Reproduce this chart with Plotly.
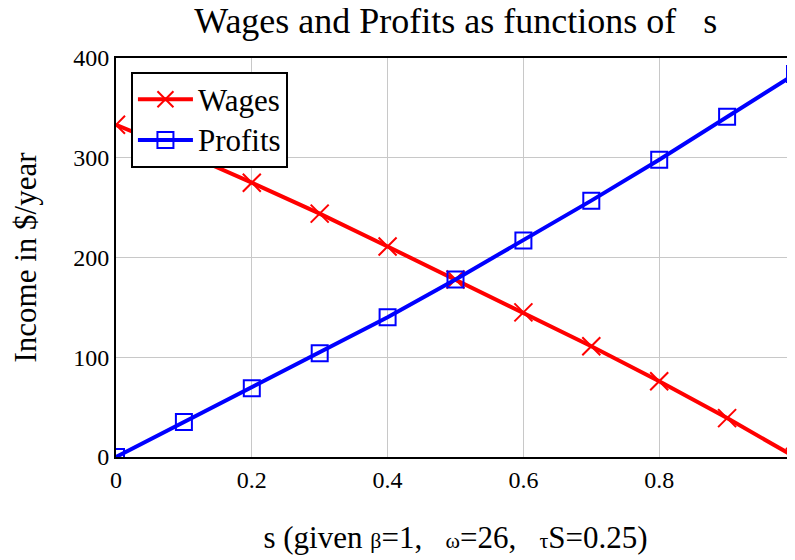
import plotly.graph_objects as go

s_values = [0.0, 0.1, 0.2, 0.3, 0.4, 0.5, 0.6, 0.7, 0.8, 0.9, 1.0]
wages = [333, 305, 275, 244, 211, 178, 145, 111, 76, 39, 0]
profits = [0, 35, 69, 104, 140, 178, 217, 257, 298, 341, 384]
series_names = ["Wages", "Profits"]
x_tick_vals = [0, 0.2, 0.4, 0.6, 0.8]
x_tick_text = ["0", "0.2", "0.4", "0.6", "0.8"]
y_tick_vals = [0, 100, 200, 300, 400]

FONT = "Liberation Serif"

fig = go.Figure()
fig.add_trace(go.Scatter(
    x=s_values, y=wages,
    name="<span style='font-size:31px'>%s</span>" % series_names[0],
    mode="lines+markers",
    line=dict(color="#ff0000", width=4),
    marker=dict(symbol="x-thin-open", size=18, color="#ff0000",
                line=dict(color="#ff0000", width=2)),
))
fig.add_trace(go.Scatter(
    x=s_values, y=profits,
    name="<span style='font-size:31px'>%s</span>" % series_names[1],
    mode="lines+markers",
    line=dict(color="#0000ff", width=4),
    marker=dict(symbol="square-open", size=16, color="#0000ff",
                line=dict(color="#0000ff", width=2)),
))

fig.update_layout(
    width=787, height=552,
    margin=dict(l=108, r=0, t=50, b=103, autoexpand=False),
    paper_bgcolor="white", plot_bgcolor="white",
    font=dict(family=FONT, color="black"),
    title=dict(text="Wages and Profits as functions of &nbsp;&nbsp;s",
               x=0.569, xanchor="center", y=0.978, yanchor="middle",
               font=dict(family=FONT, size=36, color="black")),
    legend=dict(x=0.022, y=0.965, xanchor="left", yanchor="top",
                bgcolor="white", bordercolor="black", borderwidth=2,
                font=dict(family=FONT, size=29, color="black"),
                tracegroupgap=0, itemwidth=55),
    showlegend=True,
)
fig.update_xaxes(
    range=[0, 1], tickvals=x_tick_vals, ticktext=x_tick_text,
    showgrid=True, gridcolor="#c8c8c8", gridwidth=1,
    showline=True, linecolor="black", linewidth=2, mirror=True,
    ticks="", tickfont=dict(family=FONT, size=24, color="black"),
    zeroline=False, automargin=False,
    title=dict(text="s (given <span style='font-size:22px'>β</span>=1, &nbsp;&nbsp;<span style='font-size:22px'>ω</span>=26, &nbsp;&nbsp;<span style='font-size:22px'>τ</span>S=0.25)",
               font=dict(family=FONT, size=31, color="black"), standoff=35),
)
fig.update_yaxes(
    range=[0, 400], tickvals=y_tick_vals,
    showgrid=True, gridcolor="#c8c8c8", gridwidth=1,
    showline=True, linecolor="black", linewidth=2, mirror=True,
    ticks="", tickfont=dict(family=FONT, size=24, color="black"),
    zeroline=False, automargin=False,
    title=dict(text="Income in $/year",
               font=dict(family=FONT, size=31, color="black"), standoff=32),
)

fig.write_html("out.html")
